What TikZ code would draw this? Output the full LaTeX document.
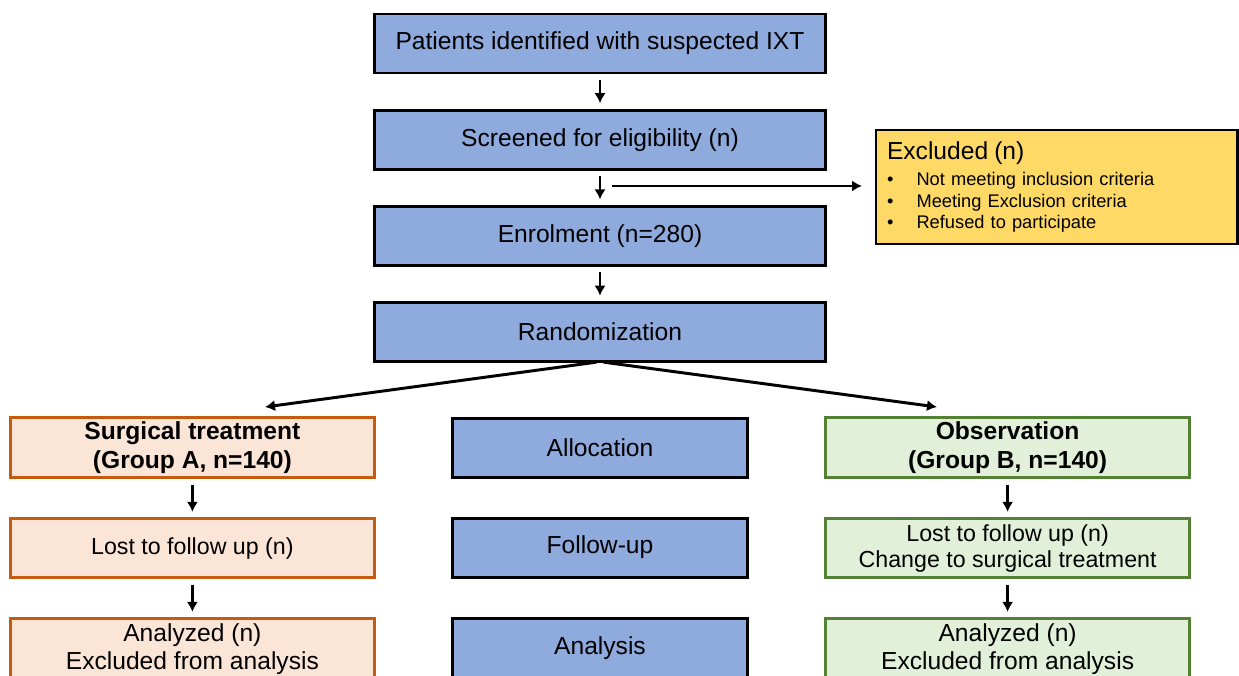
\documentclass[tikz,border=0pt]{standalone}
\usepackage{fontspec}
\setmainfont{Liberation Sans}
\usepackage{xcolor}
\usepackage{tikz}
\usetikzlibrary{arrows.meta,positioning}
\definecolor{ctblue}{HTML}{8FAADC}
\definecolor{ctyellow}{HTML}{FFD966}
\definecolor{ctorange}{HTML}{C55A11}
\definecolor{ctpeach}{HTML}{FBE5D6}
\definecolor{ctgreen}{HTML}{548235}
\definecolor{ctmint}{HTML}{E2F0D9}
\tikzset{
  ctarrow/.style={-{Latex[length=2.5mm,width=2.8mm]}, line width=2.1pt,
    draw=black},
  ctstep/.style={ctarrow, shorten <=0.175cm, shorten >=0.175cm},
  ctmain/.style={draw=black, fill=ctblue, line width=2.1pt, outer sep=0pt,
    align=center, minimum width=11.25cm, minimum height=1.475cm,
    font=\fontsize{17.5}{20}\selectfont},
  ctmid/.style={ctmain, minimum width=7.375cm},
  ctsurg/.style={draw=ctorange, fill=ctpeach, line width=2.1pt,
    outer sep=0pt, align=center, minimum width=9.1cm,
    minimum height=1.475cm, font=\fontsize{17.5}{20}\selectfont},
  ctobs/.style={ctsurg, draw=ctgreen, fill=ctmint},
  ctexcl/.style={draw=black, fill=ctyellow, line width=2.1pt,
    outer sep=0pt, align=left, minimum width=9.025cm,
    minimum height=2.85cm, inner xsep=0.275cm, text width=8.475cm,
    font=\fontsize{13}{15.6}\selectfont}
}
\newcommand{\ctitem}[1]{\makebox[21pt][l]{\textbullet}#1}

\begin{document}
\begin{tikzpicture}[x=0.025cm, y=-0.025cm, node distance=0.93cm and 1.95cm]
  \useasboundingbox (0,0) rectangle (1239,676);

  % main column
  \node[ctmain] (ident) at (600,43.5) {Patients identified with suspected IXT};
  \node[ctmain, below=of ident] (screen) {Screened for eligibility (n)};
  \node[ctmain, below=of screen] (enrol) {Enrolment (n=280)};
  \node[ctmain, below=of enrol] (random) {Randomization};

  \node[ctexcl, anchor=west] (excl) at (876,187)
    {{\fontsize{17.5}{20}\selectfont Excluded (n)}\\[2.9pt]
     \ctitem{Not meeting inclusion criteria}\\
     \ctitem{Meeting Exclusion criteria}\\
     \ctitem{Refused to participate}};

  % arms
  \node[ctmid, below=1.41cm of random] (alloc) {Allocation};
  \node[ctsurg, left=of alloc] (surg)
    {\textbf{Surgical treatment}\\\textbf{(Group A, n=140)}};
  \node[ctobs, right=of alloc] (obs)
    {\textbf{Observation}\\\textbf{(Group B, n=140)}};

  \node[ctmid, below=1.025cm of alloc] (follow) {Follow-up};
  \node[ctsurg, below=1.025cm of surg, font=\fontsize{16.5}{18.5}\selectfont]
    (lostA) {Lost to follow up (n)};
  \node[ctobs, below=1.025cm of obs, font=\fontsize{16.5}{18.5}\selectfont]
    (lostB) {Lost to follow up (n)\\Change to surgical treatment};

  \node[ctmid, below=1.025cm of follow] (analysis) {Analysis};
  \node[ctsurg, below=1.025cm of lostA] (anaA)
    {Analyzed (n)\\Excluded from analysis};
  \node[ctobs, below=1.025cm of lostB] (anaB)
    {Analyzed (n)\\Excluded from analysis};

  \coordinate (exclsplit) at (612,186);
  \coordinate (toA) at (265,407);
  \coordinate (toB) at (937,407);

  \draw[ctstep] (ident) -- (screen);
  \draw[ctstep] (screen) -- (enrol);
  \draw[ctstep] (enrol) -- (random);
  \draw[ctarrow, shorten >=0.35cm] (exclsplit) -- (exclsplit -| excl.west);
  \draw[ctarrow, shorten <=0.09cm] (random.south) -- (toA);
  \draw[ctarrow, shorten <=0.09cm] (random.south) -- (toB);
  \draw[ctstep] (surg) -- (lostA);
  \draw[ctstep] (lostA) -- (anaA);
  \draw[ctstep] (obs) -- (lostB);
  \draw[ctstep] (lostB) -- (anaB);
\end{tikzpicture}
\end{document}
